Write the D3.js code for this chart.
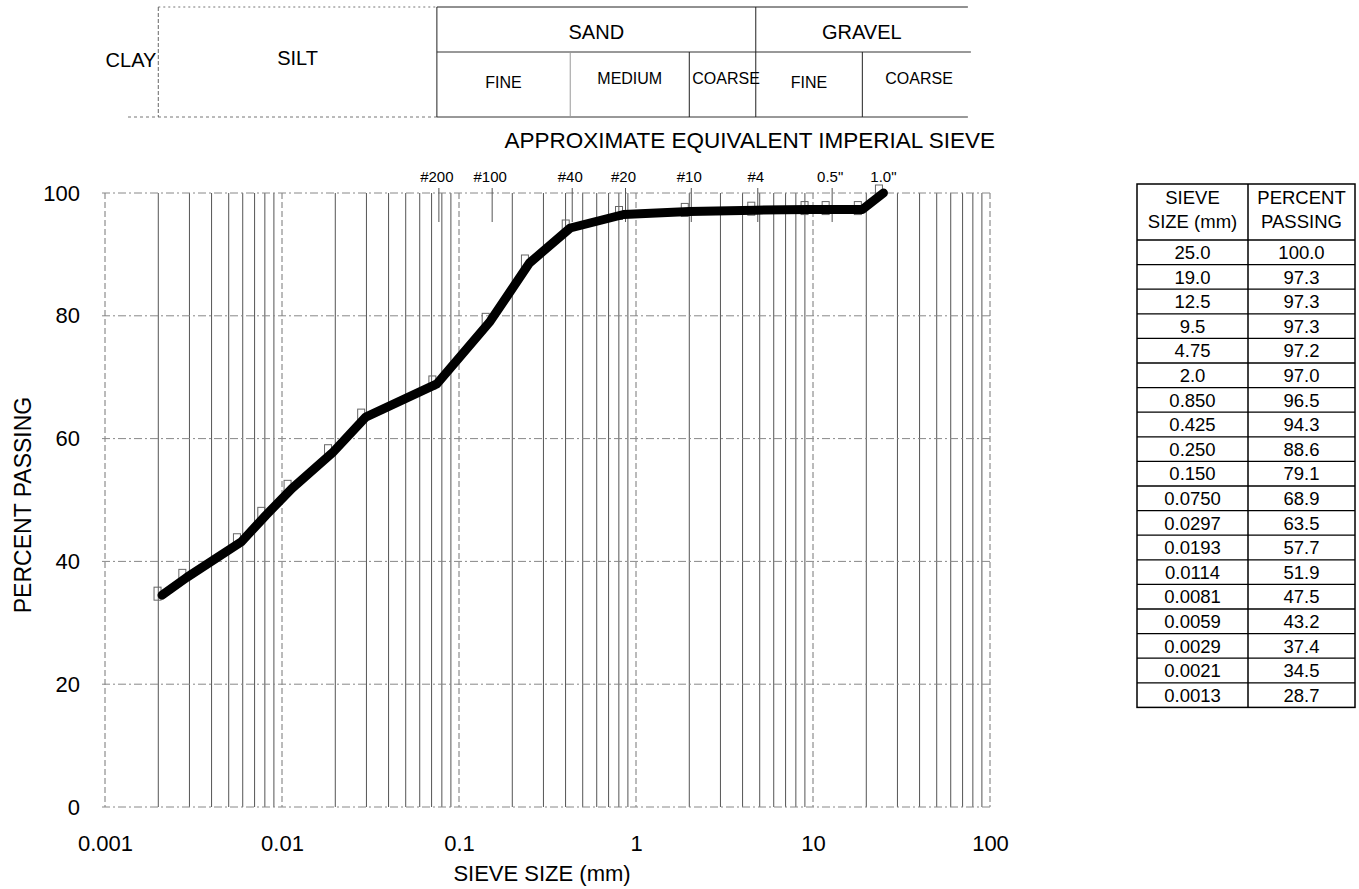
<!DOCTYPE html>
<html>
<head>
<meta charset="utf-8">
<script src="https://cdn.jsdelivr.net/npm/d3@7"></script>
<style>
  html, body { margin: 0; padding: 0; background: #fff; }
  svg { display: block; font-family: "Liberation Sans", Arial, Helvetica, sans-serif; }
</style>
</head>
<body>
<svg id="chart" width="1359" height="889"></svg>
<script>
// ---- data ----
const sieveSizes = [25.0, 19.0, 12.5, 9.5, 4.75, 2.0, 0.850, 0.425, 0.250, 0.150, 0.0750, 0.0297, 0.0193, 0.0114, 0.0081, 0.0059, 0.0029, 0.0021, 0.0013];
const sieveLabels = ["25.0", "19.0", "12.5", "9.5", "4.75", "2.0", "0.850", "0.425", "0.250", "0.150", "0.0750", "0.0297", "0.0193", "0.0114", "0.0081", "0.0059", "0.0029", "0.0021", "0.0013"];
const percentPassing = [100.0, 97.3, 97.3, 97.3, 97.2, 97.0, 96.5, 94.3, 88.6, 79.1, 68.9, 63.5, 57.7, 51.9, 47.5, 43.2, 37.4, 34.5, 28.7];
const percentLabels = ["100.0", "97.3", "97.3", "97.3", "97.2", "97.0", "96.5", "94.3", "88.6", "79.1", "68.9", "63.5", "57.7", "51.9", "47.5", "43.2", "37.4", "34.5", "28.7"];
const xTickValues = [0.001, 0.01, 0.1, 1, 10, 100];
const xTickLabels = ["0.001", "0.01", "0.1", "1", "10", "100"];
const yTickValues = [0, 20, 40, 60, 80, 100];
const imperialSizes = [0.075, 0.15, 0.425, 0.85, 2.0, 4.75, 12.5, 25];
const imperialLabels = ["#200", "#100", "#40", "#20", "#10", "#4", "0.5\"", "1.0\""];
const classBounds = [0.002, 0.075, 0.425, 2.0, 4.75, 19, 75];
const mainClasses = [["CLAY", null, 0.002], ["SILT", 0.002, 0.075], ["SAND", 0.075, 4.75], ["GRAVEL", 4.75, 75]];
const subClasses = [["FINE", 0.075, 0.425], ["MEDIUM", 0.425, 2.0], ["COARSE", 2.0, 4.75], ["FINE", 4.75, 19], ["COARSE", 19, 75]];
const minPlotted = 0.002;

// ---- scales ----
const svg = d3.select("#chart");
const x = d3.scaleLog().domain([0.001, 100]).range([105, 990]);
const y = d3.scaleLinear().domain([0, 100]).range([807, 193]);
const isDecade = d => Math.abs(Math.log10(d) - Math.round(Math.log10(d))) < 1e-9;

// ---- grid ----
const grid = svg.append("g");
const minor = [];
for (let e = -3; e < 2; e++) for (let m = 1; m <= 9; m++) minor.push(m * Math.pow(10, e));
minor.push(100);
grid.selectAll("line.v").data(minor).join("line")
  .attr("x1", d => x(d)).attr("x2", d => x(d))
  .attr("y1", y(100)).attr("y2", y(0))
  .attr("stroke", d => isDecade(d) ? "#777" : "#555")
  .attr("stroke-width", 1)
  .attr("stroke-dasharray", d => isDecade(d) ? "6,3" : null);
grid.selectAll("line.h").data(yTickValues).join("line")
  .attr("x1", x(0.001) - 3).attr("x2", x(100) + 3)
  .attr("y1", d => y(d)).attr("y2", d => y(d))
  .attr("stroke", "#888").attr("stroke-width", 1)
  .attr("stroke-dasharray", "8,3,2,3");

// ---- axes ----
const xAxis = svg.append("g").attr("transform", `translate(0,${y(0)})`)
  .call(d3.axisBottom(x).tickValues(xTickValues).tickFormat((d, i) => xTickLabels[i]).tickSize(0).tickPadding(28));
xAxis.select(".domain").remove();
xAxis.selectAll("text").attr("font-size", 22).attr("fill", "#000").attr("font-family", "Liberation Sans, Arial, sans-serif");

const yAxis = svg.append("g").attr("transform", `translate(${x(0.001)},0)`)
  .call(d3.axisLeft(y).tickValues(yTickValues).tickSize(0).tickPadding(25));
yAxis.select(".domain").remove();
yAxis.selectAll("text").attr("font-size", 22).attr("fill", "#000").attr("font-family", "Liberation Sans, Arial, sans-serif");

svg.append("text").attr("x", 542).attr("y", 881).attr("text-anchor", "middle")
  .attr("font-size", 22).text("SIEVE SIZE (mm)");
svg.append("text").attr("transform", "translate(31,505) rotate(-90)").attr("text-anchor", "middle")
  .attr("font-size", 23).text("PERCENT PASSING");

// ---- imperial sieves ----
svg.append("text").attr("x", 995).attr("y", 148).attr("text-anchor", "end")
  .attr("font-size", 22.5).text("APPROXIMATE EQUIVALENT IMPERIAL SIEVE");
const imp = svg.append("g");
imp.selectAll("text").data(imperialSizes).join("text")
  .attr("x", d => x(d)).attr("y", 182).attr("text-anchor", "middle")
  .attr("font-size", 15).text((d, i) => imperialLabels[i]);
imp.selectAll("line").data(imperialSizes.slice(0, 7)).join("line")
  .attr("x1", d => x(d) + 2).attr("x2", d => x(d) + 2)
  .attr("y1", 188).attr("y2", 222).attr("stroke", "#555").attr("stroke-width", 1);

// ---- soil classification header ----
const hdr = svg.append("g");
const hTop = 7, hMid = 52, hBot = 117;
hdr.append("line").attr("x1", x(0.002)).attr("x2", x(0.075)).attr("y1", hTop).attr("y2", hTop)
  .attr("stroke", "#777").attr("stroke-dasharray", "2,3");
hdr.append("line").attr("x1", x(0.075)).attr("x2", x(75)).attr("y1", hTop).attr("y2", hTop).attr("stroke", "#222");
hdr.append("line").attr("x1", x(0.075)).attr("x2", x(75) + 3).attr("y1", hMid).attr("y2", hMid).attr("stroke", "#333");
hdr.append("line").attr("x1", 128).attr("x2", x(0.075)).attr("y1", hBot).attr("y2", hBot)
  .attr("stroke", "#777").attr("stroke-dasharray", "3,3");
hdr.append("line").attr("x1", x(0.075)).attr("x2", x(75)).attr("y1", hBot).attr("y2", hBot).attr("stroke", "#333");
hdr.selectAll("line.b").data(classBounds.slice(0, 6)).join("line")
  .attr("x1", d => x(d)).attr("x2", d => x(d))
  .attr("y1", (d, i) => (i === 2 || i === 3 || i === 5) ? hMid : hTop).attr("y2", hBot)
  .attr("stroke", (d, i) => i === 0 ? "#666" : (i === 2 ? "#999" : "#222"))
  .attr("stroke-dasharray", (d, i) => i === 0 ? "4,2" : null);
hdr.selectAll("text.m").data(mainClasses).join("text")
  .attr("x", d => d[0] === "CLAY" ? 131 : (x(d[1]) + x(d[2])) / 2)
  .attr("y", d => (d[0] === "CLAY" || d[0] === "SILT") ? (d[0] === "CLAY" ? 67 : 65) : 39)
  .attr("text-anchor", "middle").attr("font-size", 20).text(d => d[0]);
hdr.selectAll("text.s").data(subClasses).join("text")
  .attr("x", (d, i) => i === 2 ? x(d[1]) + 3 : (x(d[1]) + x(d[2])) / 2 + (i === 4 ? 4 : 0))
  .attr("y", d => d[0] === "FINE" ? 88 : 84)
  .attr("text-anchor", (d, i) => i === 2 ? "start" : "middle")
  .attr("font-size", 16).text(d => d[0]);

// ---- curve ----
const pts = sieveSizes.map((s, i) => ({ s, p: percentPassing[i] })).filter(d => d.s >= minPlotted);
svg.append("g").selectAll("rect").data(pts).join("rect")
  .attr("x", d => x(d.s) - 8).attr("y", d => y(d.p) - 8).attr("width", 7).attr("height", 13)
  .attr("fill", "none").attr("stroke", "#666").attr("stroke-width", 1);
svg.append("path").datum(pts)
  .attr("d", d3.line().x(d => x(d.s)).y(d => y(d.p)))
  .attr("fill", "none").attr("stroke", "#000").attr("stroke-width", 9)
  .attr("stroke-linejoin", "round").attr("stroke-linecap", "round");

// ---- data table ----
const tb = svg.append("g");
const tL = 1137, tM = 1248, tR = 1355, tTop = 184, tHead = 240, rowH = 24.6;
const tBot = tHead + rowH * sieveSizes.length;
tb.append("rect").attr("x", tL).attr("y", tTop).attr("width", tR - tL).attr("height", tBot - tTop)
  .attr("fill", "none").attr("stroke", "#000").attr("stroke-width", 1.5);
tb.append("line").attr("x1", tM).attr("x2", tM).attr("y1", tTop).attr("y2", tBot).attr("stroke", "#000").attr("stroke-width", 1.5);
tb.selectAll("line.r").data(d3.range(sieveSizes.length)).join("line")
  .attr("x1", tL).attr("x2", tR)
  .attr("y1", i => tHead + rowH * i).attr("y2", i => tHead + rowH * i)
  .attr("stroke", "#000").attr("stroke-width", 1.3);
[["SIEVE", "SIZE (mm)", (tL + tM) / 2], ["PERCENT", "PASSING", (tM + tR) / 2]].forEach(h => {
  tb.append("text").attr("x", h[2]).attr("y", 204).attr("text-anchor", "middle").attr("font-size", 18.5).text(h[0]);
  tb.append("text").attr("x", h[2]).attr("y", 228).attr("text-anchor", "middle").attr("font-size", 18.5).text(h[1]);
});
tb.selectAll("text.sz").data(sieveLabels).join("text")
  .attr("x", (tL + tM) / 2).attr("y", (d, i) => tHead + rowH * i + 19)
  .attr("text-anchor", "middle").attr("font-size", 18.5).text(d => d);
tb.selectAll("text.pp").data(percentLabels).join("text")
  .attr("x", (tM + tR) / 2).attr("y", (d, i) => tHead + rowH * i + 19)
  .attr("text-anchor", "middle").attr("font-size", 18.5).text(d => d);
</script>
</body>
</html>
